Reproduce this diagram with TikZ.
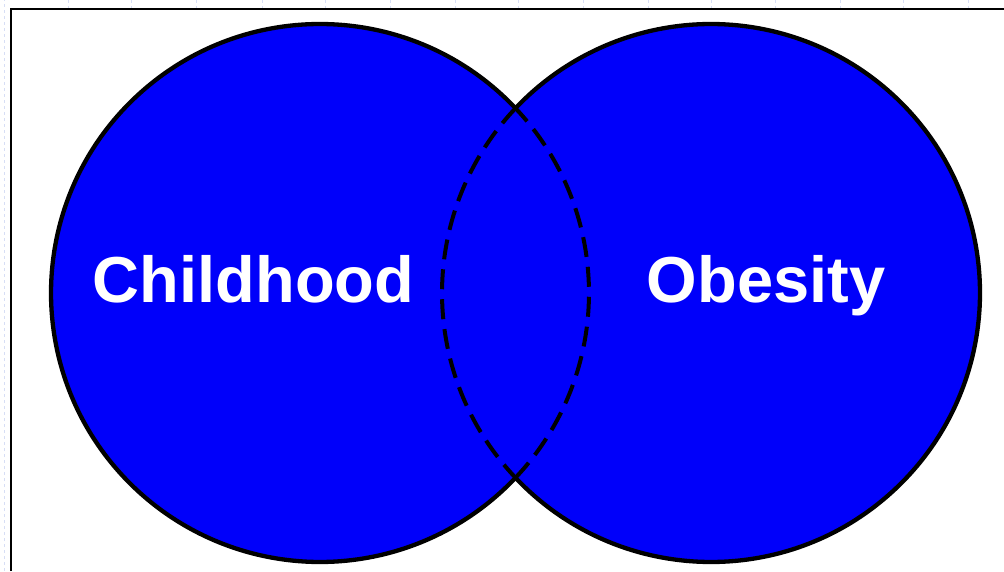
\documentclass[tikz,border=0pt]{standalone}
\usepackage{fontspec}
\setmainfont{Liberation Sans}
\definecolor{vennblue}{RGB}{0,0,250}
\definecolor{gridblue}{RGB}{215,222,245}
\tikzset{
  outline/.style={draw=black, line width=4.3pt},
  lens/.style={draw=black, line width=4pt, dash pattern=on 20pt off 10pt},
  label/.style={text=white, font=\bfseries\fontsize{65}{72}\selectfont, anchor=base, inner sep=0pt},
  frameline/.style={draw=black, line width=2.6pt},
  gridline/.style={draw=gridblue, line width=0.8pt, dash pattern=on 3pt off 3pt}
}
\begin{document}
\begin{tikzpicture}[x=1pt,y=1pt]
\useasboundingbox (0,0) rectangle (1004,571);
% faint grid outside frame
\draw[gridline] (4,0) -- (4,571);
\foreach \gx in {68,131,196,262,325,390,455,518,583,648,711,775,840,903,968}
  \draw[gridline] (\gx,571) -- (\gx,563);
% frame
\draw[frameline] (11,0) -- (11,562) -- (1004,562);
\coordinate (L) at (320,278);
\coordinate (R) at (711,278);
% fills
\fill[vennblue] (L) circle[radius=269];
\fill[vennblue] (R) circle[radius=269];
% solid outer outlines
\draw[outline] (L) ++(43.4:269) arc[start angle=43.4, end angle=316.6, radius=269];
\draw[outline] (R) ++(-136.6:269) arc[start angle=-136.6, end angle=136.6, radius=269];
% dashed inner arcs
\draw[lens] (L) ++(-43.4:269) arc[start angle=-43.4, end angle=43.4, radius=269];
\draw[lens] (R) ++(136.6:269) arc[start angle=136.6, end angle=223.4, radius=269];
% labels
\node[label] (child) at (253.5,268) {Childhood};
\node[label] (obes) at (766,268) {Obesity};
\end{tikzpicture}
\end{document}
